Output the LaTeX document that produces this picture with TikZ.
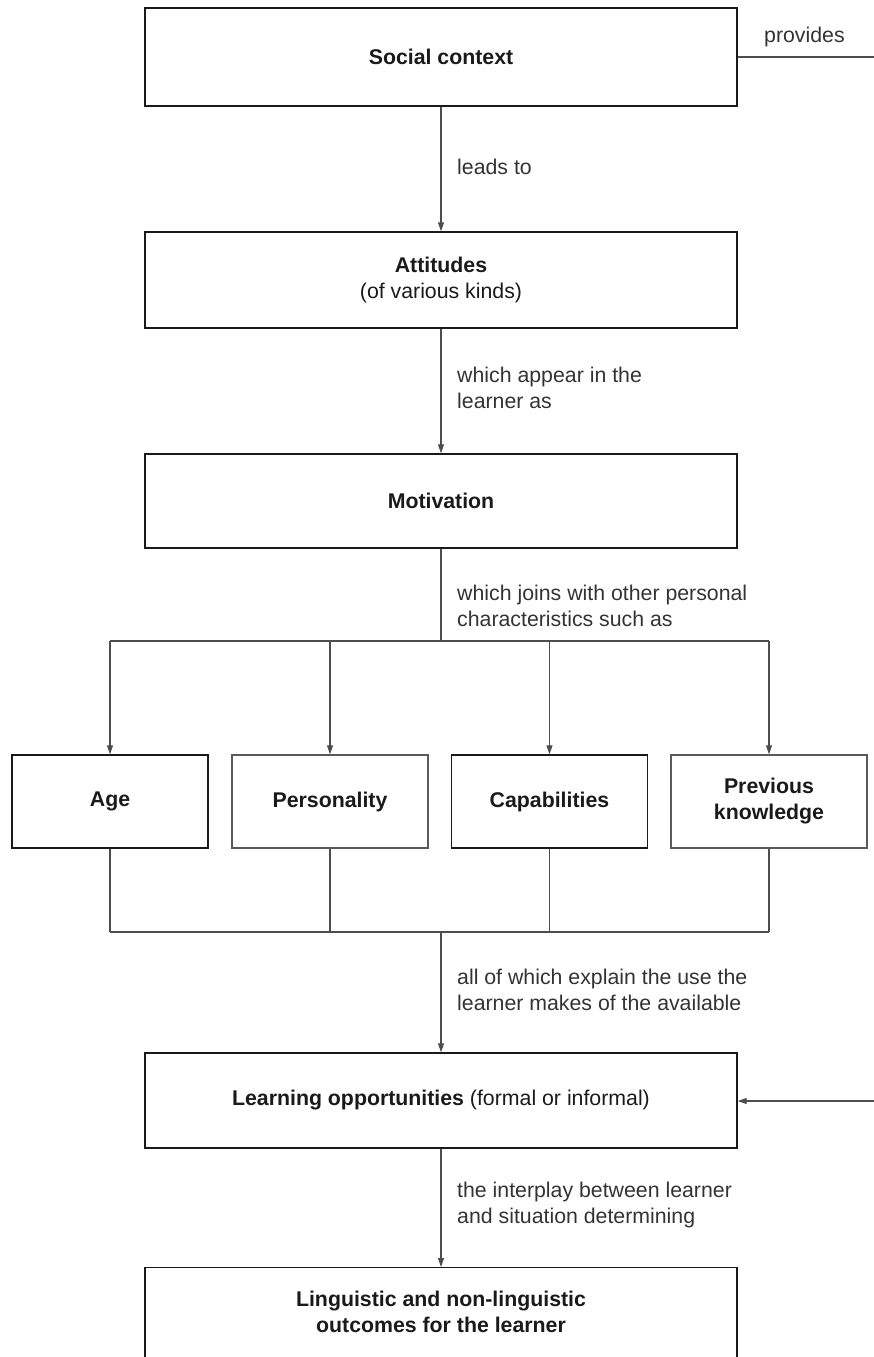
\documentclass[tikz,border=0pt]{standalone}
\usepackage{fontspec}
\setmainfont{Liberation Sans}
\usetikzlibrary{arrows.meta}
\definecolor{boxcol}{HTML}{1A1A1A}
\definecolor{boxgray}{HTML}{5A5A5A}
\definecolor{lncol}{HTML}{4D4D4D}
\definecolor{txt}{HTML}{1A1A1A}
\definecolor{lbltxt}{HTML}{333333}
\begin{document}
\begin{tikzpicture}[x=1pt,y=-1pt,
  font=\fontsize{21.3}{26}\selectfont,
  box/.style={draw=boxcol, line width=1.4pt, minimum width=592pt, minimum height=96pt, inner sep=0pt, align=center, text=txt},
  sbox/.style={box, minimum width=196pt, minimum height=93pt},
  lbl/.style={anchor=west, align=left, inner sep=0pt, text=lbltxt},
  conn/.style={draw=lncol, line width=1.1pt},
  arr/.style={conn, -{Triangle[length=9pt,width=6pt]}}]
\useasboundingbox (0,0) rectangle (874,1357);
\clip (0,0) rectangle (874,1357);

% main boxes
\node[box, minimum height=98pt] (soc) at (441,57) {\textbf{Social context}};
\node[box] (att) at (441,280) {\textbf{Attitudes}\\(of various kinds)};
\node[box, minimum height=94pt] (mot) at (441,501) {\textbf{Motivation}};

% characteristic boxes
\node[sbox] (age) at (110,801.5) {\textbf{Age}};
\node[sbox, draw=boxgray] (pers) at (330,801.5) {\textbf{Personality}};
\node[sbox] (cap) at (549.5,801.5) {\textbf{Capabilities}};
\node[sbox, draw=boxgray] (prev) at (769,801.5) {\textbf{Previous}\\\textbf{knowledge}};

\node[box, minimum height=95pt] (learn) at (441,1100.5) {\textbf{Learning opportunities} (formal or informal)};
\node[box, minimum height=140pt, anchor=north] (outbox) at (441,1267) {};
\node[align=center, inner sep=0pt, text=txt] (outtxt) at (441,1312) {\textbf{Linguistic and non-linguistic}\\\textbf{outcomes for the learner}};

% junction coordinates
\coordinate (j1) at (441,641);
\coordinate (j2) at (441,932);
\coordinate (pend) at (874,57);
\coordinate (rin) at (874,1101);

% connectors
\draw[conn] (soc.east) -- (pend);
\draw[arr] (soc.south) -- (att.north);
\draw[arr] (att.south) -- (mot.north);
\draw[conn] (mot.south) -- (j1);
\draw[conn] (age.north |- j1) -- (prev.north |- j1);
\foreach \n in {age,pers,cap,prev}{
  \draw[arr] (\n.north |- j1) -- (\n.north);
  \draw[conn] (\n.south) -- (\n.south |- j2);
}
\draw[conn] (age.south |- j2) -- (prev.south |- j2);
\draw[arr] (j2) -- (learn.north);
\draw[arr] (learn.south) -- (outbox.north);
\draw[arr] (rin) -- (learn.east |- rin);

% labels
\node[lbl] (lprov) at (764,37) {provides};
\node[lbl] (llead) at (457,167) {leads to};
\node[lbl] (lapp) at (457,387.5) {which appear in the\\learner as};
\node[lbl] (ljoin) at (457,606) {which joins with other personal\\characteristics such as};
\node[lbl] (lall) at (457,990) {all of which explain the use the\\learner makes of the available};
\node[lbl] (linter) at (457,1205) {the interplay between learner\\and situation determining};
\end{tikzpicture}
\end{document}
